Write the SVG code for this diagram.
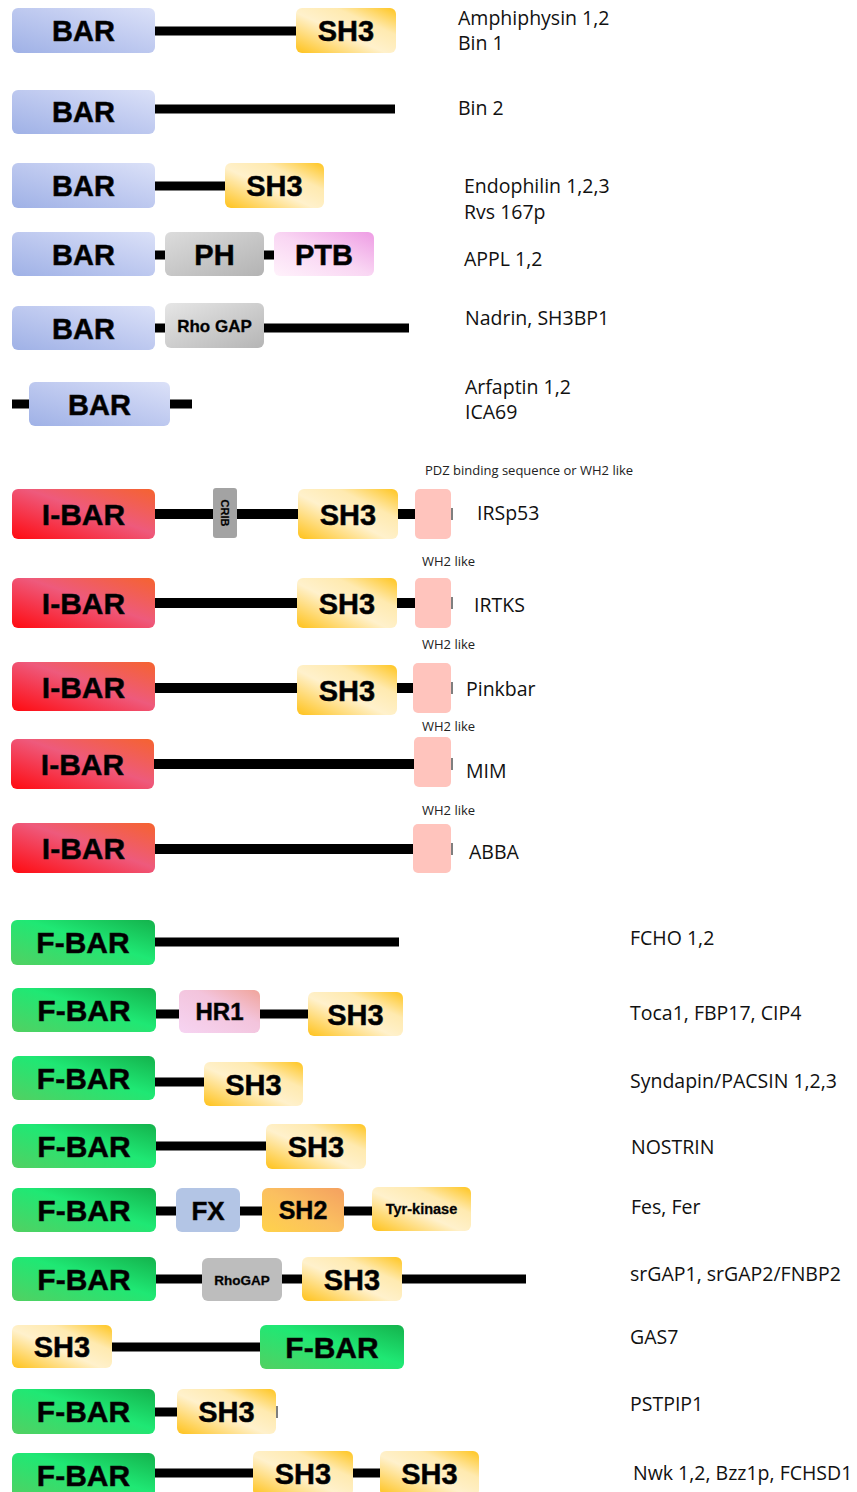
<svg xmlns="http://www.w3.org/2000/svg" width="857" height="1492" viewBox="0 0 857 1492">
<defs>
<linearGradient id="gBar" x1="0" y1="1" x2="1" y2="0"><stop offset="0" stop-color="#9fb1e6"/><stop offset="0.6" stop-color="#c3cdf1"/><stop offset="1" stop-color="#dbe1f8"/></linearGradient>
<linearGradient id="gIbar" x1="0" y1="1" x2="1" y2="0"><stop offset="0" stop-color="#ff0a10"/><stop offset="0.55" stop-color="#ee5a7c"/><stop offset="1" stop-color="#f5632f"/></linearGradient>
<linearGradient id="gFbar" x1="0" y1="1" x2="1" y2="0"><stop offset="0" stop-color="#52d062"/><stop offset="0.55" stop-color="#1fe874"/><stop offset="1" stop-color="#14b24c"/></linearGradient>
<linearGradient id="gSh3" x1="0" y1="1" x2="1" y2="0"><stop offset="0" stop-color="#ffc21a"/><stop offset="0.45" stop-color="#fff1cc"/><stop offset="0.7" stop-color="#ffeab0"/><stop offset="1" stop-color="#ffc51f"/></linearGradient>
<linearGradient id="gPh" x1="0" y1="0" x2="1" y2="1"><stop offset="0" stop-color="#dcdcdc"/><stop offset="1" stop-color="#b3b3b3"/></linearGradient>
<linearGradient id="gPtb" x1="0" y1="1" x2="1" y2="0"><stop offset="0" stop-color="#fff2fb"/><stop offset="0.5" stop-color="#f9d6f3"/><stop offset="1" stop-color="#ee9ce4"/></linearGradient>
<linearGradient id="gRho" x1="0" y1="0" x2="1" y2="1"><stop offset="0" stop-color="#e6e6e6"/><stop offset="1" stop-color="#b5b5b5"/></linearGradient>
<linearGradient id="gHr1" x1="0" y1="1" x2="1" y2="0"><stop offset="0" stop-color="#f6d4f2"/><stop offset="0.6" stop-color="#f3c4dc"/><stop offset="1" stop-color="#f0a49a"/></linearGradient>
<linearGradient id="gSh2" x1="0" y1="1" x2="1" y2="0"><stop offset="0" stop-color="#ffd24a"/><stop offset="0.5" stop-color="#fbc060"/><stop offset="1" stop-color="#f4a060"/></linearGradient>
<style>
.dom{stroke:none}
.bar{fill:url(#gBar)}
.ibar{fill:url(#gIbar)}
.fbar{fill:url(#gFbar)}
.sh3{fill:url(#gSh3)}
.ph{fill:url(#gPh)}
.ptb{fill:url(#gPtb)}
.rho{fill:url(#gRho)}
.hr1{fill:url(#gHr1)}
.sh2{fill:url(#gSh2)}
.fx{fill:#b3c5e5}
.gray{fill:#bdbdbd}
.crib{fill:#a3a3a3}
.wh2{fill:#ffc4bd}
.lbl{font-family:"Liberation Sans",Arial,sans-serif;font-weight:bold;fill:#000;stroke:#111;stroke-width:0.5;text-anchor:middle}
.big{font-size:29px}
.name{font-family:"Open Sans","Liberation Sans",sans-serif;font-size:19.5px;fill:#111}
.small{font-family:"Open Sans","Liberation Sans",sans-serif;font-size:13px;fill:#222}
.ln{stroke:#000;stroke-width:9;fill:none}
.tick{stroke:#555;stroke-width:1.5}
</style>
</defs>
<rect width="857" height="1492" fill="#fff"/>

<g id="connectors">
<line class="ln" x1="155" y1="31" x2="297" y2="31"/>
<line class="ln" x1="155" y1="109" x2="395" y2="109"/>
<line class="ln" x1="155" y1="186" x2="226" y2="186"/>
<line class="ln" x1="155" y1="255" x2="165" y2="255"/>
<line class="ln" x1="264" y1="255" x2="275" y2="255"/>
<line class="ln" x1="155" y1="328" x2="166" y2="328"/>
<line class="ln" x1="263" y1="328" x2="409" y2="328"/>
<line class="ln" x1="12" y1="404" x2="30" y2="404"/>
<line class="ln" x1="169" y1="404" x2="192" y2="404"/>
<line class="ln" x1="155" y1="514" x2="415" y2="514" style="stroke-width:10"/>
<line class="ln" x1="155" y1="603" x2="415" y2="603" style="stroke-width:10"/>
<line class="ln" x1="155" y1="688" x2="414" y2="688" style="stroke-width:10"/>
<line class="ln" x1="154" y1="764" x2="414" y2="764" style="stroke-width:10"/>
<line class="ln" x1="155" y1="849" x2="414" y2="849" style="stroke-width:10"/>
<line class="ln" x1="155" y1="942" x2="399" y2="942"/>
<line class="ln" x1="156" y1="1014" x2="309" y2="1014"/>
<line class="ln" x1="155" y1="1082" x2="205" y2="1082"/>
<line class="ln" x1="156" y1="1146" x2="267" y2="1146"/>
<line class="ln" x1="156" y1="1211" x2="372" y2="1211"/>
<line class="ln" x1="156" y1="1279" x2="526" y2="1279"/>
<line class="ln" x1="112" y1="1347" x2="261" y2="1347"/>
<line class="ln" x1="155" y1="1412" x2="178" y2="1412"/>
<line class="ln" x1="155" y1="1473" x2="380" y2="1473"/>
<line class="tick" x1="452" y1="508" x2="452" y2="520"/>
<line class="tick" x1="452" y1="597" x2="452" y2="609"/>
<line class="tick" x1="452" y1="682" x2="452" y2="694"/>
<line class="tick" x1="452" y1="758" x2="452" y2="770"/>
<line class="tick" x1="452" y1="843" x2="452" y2="855"/>
<line class="tick" x1="277" y1="1406" x2="277" y2="1418"/>
</g>

<g id="row-amphiphysin">
<rect class="dom bar" x="12" y="8" width="143" height="45" rx="6"/><text class="lbl big" x="83.5" y="41">BAR</text>
<rect class="dom sh3" x="296" y="8" width="100" height="45" rx="6"/><text class="lbl big" x="346" y="41">SH3</text>
<text class="name" x="458" y="25">Amphiphysin 1,2</text><text class="name" x="458" y="50">Bin 1</text>
</g>
<g id="row-bin2">
<rect class="dom bar" x="12" y="90" width="143" height="44" rx="6"/><text class="lbl big" x="83.5" y="122">BAR</text>
<text class="name" x="458" y="115">Bin 2</text>
</g>
<g id="row-endophilin">
<rect class="dom bar" x="12" y="163" width="143" height="45" rx="6"/><text class="lbl big" x="83.5" y="196">BAR</text>
<rect class="dom sh3" x="225" y="163" width="99" height="45" rx="6"/><text class="lbl big" x="274.5" y="196">SH3</text>
<text class="name" x="464" y="193">Endophilin 1,2,3</text><text class="name" x="464" y="219">Rvs 167p</text>
</g>
<g id="row-appl">
<rect class="dom bar" x="12" y="232" width="143" height="44" rx="6"/><text class="lbl big" x="83.5" y="264.5">BAR</text>
<rect class="dom ph" x="165" y="232" width="99" height="44" rx="6"/><text class="lbl big" x="214.5" y="264.5">PH</text>
<rect class="dom ptb" x="274" y="232" width="100" height="44" rx="6"/><text class="lbl big" x="324" y="264.5">PTB</text>
<text class="name" x="464" y="266">APPL 1,2</text>
</g>
<g id="row-nadrin">
<rect class="dom bar" x="12" y="306" width="143" height="44" rx="6"/><text class="lbl big" x="83.5" y="338.5">BAR</text>
<rect class="dom rho" x="165" y="303" width="99" height="45" rx="6"/><text class="lbl" style="font-size:17px;stroke-width:0.3" x="214.5" y="331.5">Rho GAP</text>
<text class="name" x="465" y="325">Nadrin, SH3BP1</text>
</g>
<g id="row-arfaptin">
<rect class="dom bar" x="29" y="382" width="141" height="44" rx="6"/><text class="lbl big" x="99.5" y="414.5">BAR</text>
<text class="name" x="465" y="394">Arfaptin 1,2</text><text class="name" x="465" y="419">ICA69</text>
</g>

<g id="row-irsp53">
<text class="small" x="425" y="475">PDZ binding sequence or WH2 like</text>
<rect class="dom ibar" x="12" y="489" width="143" height="50" rx="6"/><text class="lbl big" x="83.5" y="525" style="font-size:30px">I-BAR</text>
<rect class="dom crib" x="213" y="488" width="24" height="50" rx="3"/><text class="lbl" style="font-size:11px;stroke-width:0.2" transform="translate(221,513) rotate(90)">CRIB</text>
<rect class="dom sh3" x="298" y="489" width="100" height="50" rx="6"/><text class="lbl big" x="348" y="525">SH3</text>
<rect class="dom wh2" x="415" y="489" width="36" height="50" rx="5"/>
<text class="name" x="477" y="520">IRSp53</text>
</g>
<g id="row-irtks">
<text class="small" x="422" y="566">WH2 like</text>
<rect class="dom ibar" x="12" y="578" width="143" height="50" rx="6"/><text class="lbl big" x="83.5" y="614" style="font-size:30px">I-BAR</text>
<rect class="dom sh3" x="297" y="578" width="100" height="50" rx="6"/><text class="lbl big" x="347" y="614">SH3</text>
<rect class="dom wh2" x="415" y="578" width="36" height="50" rx="5"/>
<text class="name" x="474" y="612">IRTKS</text>
</g>
<g id="row-pinkbar">
<text class="small" x="422" y="649">WH2 like</text>
<rect class="dom ibar" x="12" y="662" width="143" height="49" rx="6"/><text class="lbl big" x="83.5" y="697.5" style="font-size:30px">I-BAR</text>
<rect class="dom sh3" x="297" y="665" width="100" height="50" rx="6"/><text class="lbl big" x="347" y="701">SH3</text>
<rect class="dom wh2" x="413" y="663" width="38" height="50" rx="5"/>
<text class="name" x="466" y="696">Pinkbar</text>
</g>
<g id="row-mim">
<text class="small" x="422" y="731">WH2 like</text>
<rect class="dom ibar" x="11" y="739" width="143" height="50" rx="6"/><text class="lbl big" x="82.5" y="775" style="font-size:30px">I-BAR</text>
<rect class="dom wh2" x="414" y="737" width="37" height="50" rx="5"/>
<text class="name" x="466" y="778">MIM</text>
</g>
<g id="row-abba">
<text class="small" x="422" y="815">WH2 like</text>
<rect class="dom ibar" x="12" y="823" width="143" height="50" rx="6"/><text class="lbl big" x="83.5" y="859" style="font-size:30px">I-BAR</text>
<rect class="dom wh2" x="413" y="824" width="38" height="49" rx="5"/>
<text class="name" x="469" y="859">ABBA</text>
</g>

<g id="row-fcho">
<rect class="dom fbar" x="11" y="920" width="144" height="45" rx="6"/><text class="lbl big" x="83" y="953" style="font-size:30px">F-BAR</text>
<text class="name" x="630" y="945">FCHO 1,2</text>
</g>
<g id="row-toca">
<rect class="dom fbar" x="12" y="988" width="144" height="44" rx="6"/><text class="lbl big" x="84" y="1021" style="font-size:30px">F-BAR</text>
<rect class="dom hr1" x="179" y="990" width="81" height="43" rx="6"/><text class="lbl" style="font-size:24px" x="219.5" y="1020">HR1</text>
<rect class="dom sh3" x="308" y="992" width="95" height="44" rx="6"/><text class="lbl big" x="355.5" y="1025">SH3</text>
<text class="name" x="630" y="1020">Toca1, FBP17, CIP4</text>
</g>
<g id="row-syndapin">
<rect class="dom fbar" x="12" y="1056" width="143" height="44" rx="6"/><text class="lbl big" x="83.5" y="1089" style="font-size:30px">F-BAR</text>
<rect class="dom sh3" x="204" y="1062" width="99" height="44" rx="6"/><text class="lbl big" x="253.5" y="1094.5">SH3</text>
<text class="name" x="630" y="1088">Syndapin/PACSIN 1,2,3</text>
</g>
<g id="row-nostrin">
<rect class="dom fbar" x="12" y="1124" width="144" height="44" rx="6"/><text class="lbl big" x="84" y="1157" style="font-size:30px">F-BAR</text>
<rect class="dom sh3" x="266" y="1124" width="100" height="45" rx="6"/><text class="lbl big" x="316" y="1157">SH3</text>
<text class="name" x="631" y="1154">NOSTRIN</text>
</g>
<g id="row-fes">
<rect class="dom fbar" x="12" y="1188" width="144" height="44" rx="6"/><text class="lbl big" x="84" y="1221" style="font-size:30px">F-BAR</text>
<rect class="dom fx" x="176" y="1188" width="64" height="44" rx="6"/><text class="lbl" style="font-size:26px" x="208" y="1219.5">FX</text>
<rect class="dom sh2" x="262" y="1188" width="82" height="44" rx="6"/><text class="lbl" style="font-size:25px" x="303" y="1219">SH2</text>
<rect class="dom sh3" x="372" y="1187" width="99" height="44" rx="6"/><text class="lbl" style="font-size:14.5px;stroke-width:0.3" x="421.5" y="1214">Tyr-kinase</text>
<text class="name" x="631" y="1214">Fes, Fer</text>
</g>
<g id="row-srgap">
<rect class="dom fbar" x="12" y="1257" width="144" height="44" rx="6"/><text class="lbl big" x="84" y="1290" style="font-size:30px">F-BAR</text>
<rect class="dom gray" x="202" y="1258" width="80" height="43" rx="6"/><text class="lbl" style="font-size:13.5px;stroke-width:0.3" x="242" y="1284.5">RhoGAP</text>
<rect class="dom sh3" x="302" y="1257" width="100" height="44" rx="6"/><text class="lbl big" x="352" y="1290">SH3</text>
<text class="name" x="630" y="1281">srGAP1, srGAP2/FNBP2</text>
</g>
<g id="row-gas7">
<rect class="dom sh3" x="12" y="1325" width="100" height="43" rx="6"/><text class="lbl big" x="62" y="1357">SH3</text>
<rect class="dom fbar" x="260" y="1325" width="144" height="44" rx="6"/><text class="lbl big" x="332" y="1358" style="font-size:30px">F-BAR</text>
<text class="name" x="630" y="1344">GAS7</text>
</g>
<g id="row-pstpip1">
<rect class="dom fbar" x="12" y="1389" width="143" height="45" rx="6"/><text class="lbl big" x="83.5" y="1422" style="font-size:30px">F-BAR</text>
<rect class="dom sh3" x="177" y="1389" width="99" height="45" rx="6"/><text class="lbl big" x="226.5" y="1422">SH3</text>
<text class="name" x="630" y="1411">PSTPIP1</text>
</g>
<g id="row-nwk">
<rect class="dom fbar" x="12" y="1453" width="143" height="45" rx="6"/><text class="lbl big" x="83.5" y="1486" style="font-size:30px">F-BAR</text>
<rect class="dom sh3" x="253" y="1451" width="100" height="45" rx="6"/><text class="lbl big" x="303" y="1484">SH3</text>
<rect class="dom sh3" x="380" y="1451" width="99" height="45" rx="6"/><text class="lbl big" x="429.5" y="1484">SH3</text>
<text class="name" x="633" y="1480">Nwk 1,2, Bzz1p, FCHSD1</text>
</g>
</svg>
